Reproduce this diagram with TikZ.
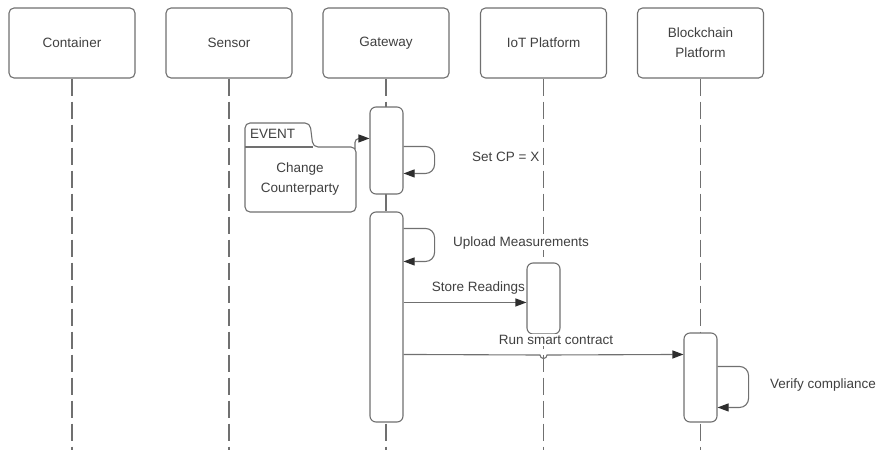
\documentclass[tikz,border=0pt]{standalone}
\usepackage{fontspec}
\setmainfont{Liberation Sans}
\usetikzlibrary{arrows.meta,calc}
\definecolor{ink}{HTML}{404040}
\definecolor{edge}{HTML}{707070}
\definecolor{tip}{HTML}{2E2E2E}
\tikzset{
  txt/.style={font=\fontsize{13.5}{20}\selectfont, text=ink},
  head/.style={txt, draw=edge, line width=1.1pt, rounded corners=5pt, fill=white,
    minimum width=126pt, minimum height=70pt, align=center, inner sep=0pt},
  life/.style={draw=edge, line width=1.1pt, dash pattern=on 17pt off 6pt},
  act/.style={draw=edge, line width=1.1pt, rounded corners=6pt, fill=white,
    minimum width=33pt, inner sep=0pt},
  msg/.style={draw=edge, line width=1.1pt,
    -{Triangle[length=11pt,width=8pt,color=tip]}},
  lbl/.style={txt, fill=white, inner sep=1pt},
}
\begin{document}
\begin{tikzpicture}[x=1pt,y=-1pt]
\useasboundingbox (0,0) rectangle (882,450);

% participants
\node[head] (cont) at (72,43) {Container};
\node[head] (sens) at (229,43) {Sensor};
\node[head] (gate) at (386,43) {Gateway};
\node[head] (iotp) at (543.5,43) {IoT Platform};
\node[head] (bcp) at (700.5,43) {Blockchain\\Platform};

% lifelines
\foreach \p in {cont,sens,gate,iotp,bcp}
  \draw[life] (\p.south) -- (\p.south |- 0,450);

% activation bars
\node[act, minimum height=87pt] (gw1) at (386.5,150.5) {};
\node[act, minimum height=210pt] (gw2) at (386.5,317) {};
\node[act, minimum height=71pt] (iot) at (543.5,298.5) {};
\node[act, minimum height=89pt] (bc) at (700.5,377.5) {};

% event frame with tab
\draw[draw=edge, line width=1.1pt, fill=white, rounded corners=5pt]
  (245,212) -- (245,123) -- (310,123) -- (313,147) -- (356,147) -- (356,212) -- cycle;
\draw[draw=edge, line width=1.1pt] (245,147) -- (313,147);
\node[txt, anchor=west, inner sep=0pt] (evlbl) at (250,134) {EVENT};
\node[txt, align=center, inner sep=0pt] (evtxt) at (300,179) {Change\\Counterparty};
\coordinate (evout) at (355,149);

% event trigger
\draw[msg, rounded corners=4pt] (evout) |- ($(gw1.north west)+(0,32)$);

% Set CP = X
\draw[msg, rounded corners=9pt] ($(gw1.north east)+(0,40)$) -- ++(31,0) |- ($(gw1.north east)+(0,67)$);
\node[lbl, anchor=west] (l1) at (471,157) {Set CP = X};

% Upload Measurements
\draw[msg, rounded corners=9pt] ($(gw2.north east)+(0,17)$) -- ++(31,0) |- ($(gw2.north east)+(0,50)$);
\node[lbl, anchor=west] (l2) at (452,243) {Upload Measurements};

% Store Readings
\draw[msg] ($(gw2.north east)+(0,91)$) -- (iot.west |- {$(gw2.north east)+(0,91)$});
\node[lbl, anchor=east] (l3) at (526,288) {Store Readings};

% Run smart contract (hops over the IoT lifeline)
\coordinate (rs) at ($(gw2.north east)+(0,143)$);
\draw[msg] (rs) -- (540,355) arc[start angle=180, end angle=0, radius=3.5] -- (bc.west |- rs);
\node[lbl] (l4) at (556,340) {Run smart contract};

% Verify compliance
\draw[msg, rounded corners=9pt] ($(bc.north east)+(0,34)$) -- ++(31,0) |- ($(bc.north east)+(0,75)$);
\node[lbl, anchor=west] (l5) at (769,385) {Verify compliance};
\end{tikzpicture}
\end{document}
